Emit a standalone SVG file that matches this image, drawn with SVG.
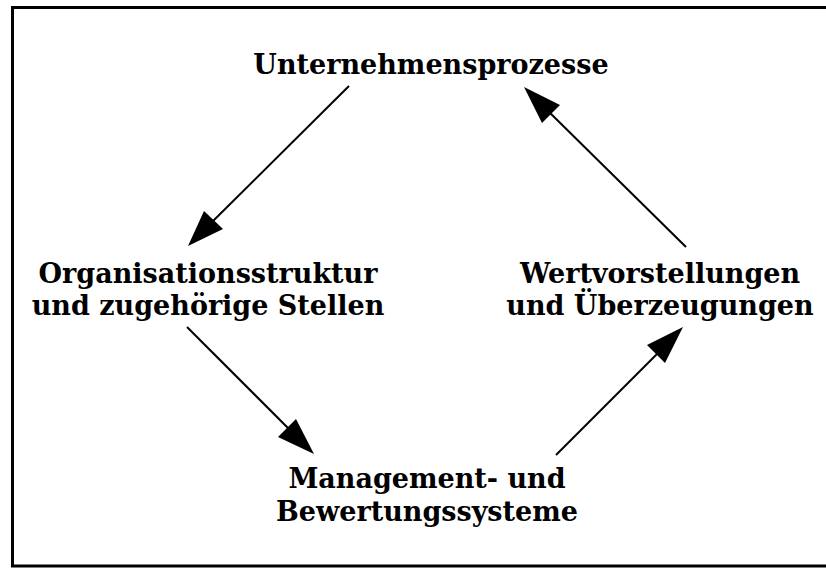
<svg xmlns="http://www.w3.org/2000/svg" width="826" height="568" viewBox="0 0 826 568">
  <style>
    .lbl { font-family: "DejaVu Serif", "Liberation Serif", serif; font-weight: bold; font-size: 27px; fill: #000; text-anchor: middle; }
    .edge { stroke: #000; stroke-width: 2; fill: none; }
    .head { fill: #000; stroke: none; }
  </style>
  <rect width="826" height="568" fill="#fff"/>
  <!-- outer frame -->
  <rect x="12.5" y="7.5" width="820" height="558.5" fill="none" stroke="#000" stroke-width="3"/>

  <g id="node-prozesse">
    <text class="lbl" x="431" y="74">Unternehmensprozesse</text>
  </g>
  <g id="node-organisation">
    <text class="lbl" x="208" y="283">Organisationsstruktur</text>
    <text class="lbl" x="208" y="315">und zugehörige Stellen</text>
  </g>
  <g id="node-werte">
    <text class="lbl" x="660" y="283">Wertvorstellungen</text>
    <text class="lbl" x="660" y="315">und Überzeugungen</text>
  </g>
  <g id="node-management">
    <text class="lbl" x="427" y="488">Management- und</text>
    <text class="lbl" x="427" y="521">Bewertungssysteme</text>
  </g>

  <g id="connectors">
    <!-- Unternehmensprozesse -> Organisationsstruktur -->
    <line class="edge" x1="349" y1="86" x2="210" y2="224"/>
    <polygon class="head" points="188,246 204,211 223,229"/>
    <!-- Organisationsstruktur -> Management -->
    <line class="edge" x1="187" y1="327" x2="292" y2="432"/>
    <polygon class="head" points="314,454 278,437 296,419"/>
    <!-- Management -> Wertvorstellungen -->
    <line class="edge" x1="556" y1="455" x2="660" y2="351"/>
    <polygon class="head" points="683,327 665,363 647,345"/>
    <!-- Wertvorstellungen -> Unternehmensprozesse -->
    <line class="edge" x1="686" y1="247" x2="546" y2="109"/>
    <polygon class="head" points="524,87 560,105 542,123"/>
  </g>
</svg>
